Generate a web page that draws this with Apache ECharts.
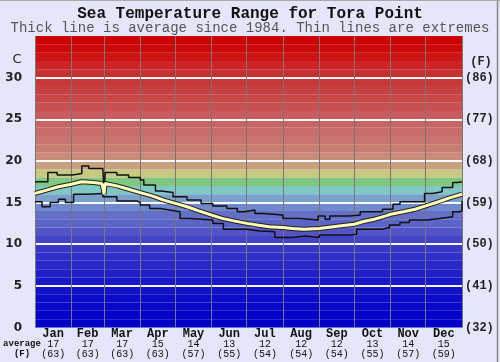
<!DOCTYPE html>
<html><head><meta charset="utf-8">
<script src="https://cdn.jsdelivr.net/npm/echarts@6/dist/echarts.min.js"></script>
<style>html,body{margin:0;padding:0;background:#e6e6fa}#c{width:500px;height:362px}</style>
</head><body><div id="c"></div>
<script>
const titleText = 'Sea Temperature Range for Tora Point';
const subtitleText = 'Thick line is average since 1984. Thin lines are extremes';
const monthNames = ['Jan','Feb','Mar','Apr','May','Jun','Jul','Aug','Sep','Oct','Nov','Dec'];
const monthStartDays = [0,31,59,90,120,151,181,212,243,273,304,334,365];
const monthMidDays = [15.5,45,74.5,105,135.5,166,196.5,227.5,258,288.5,319,349.5];
const monthAvgC = [17,17,17,15,14,13,12,12,12,13,14,15];
const monthAvgF = [63,63,63,63,57,55,54,54,54,55,57,59];
const celsiusTicks = [0,5,10,15,20,25,30];
const whiteLineTicks = [5,10,15,20,25,30];
const fahrenheitTickLabels = ['(32)','(41)','(50)','(59)','(68)','(77)','(86)'];

// day of year, degrees C
const avgLine = [[0,16.1],[10,16.5],[20,16.9],[31,17.2],[40,17.5],[50,17.4],[57,17.3],[58,16.9],[59,16.0],[60,17.3],
  [70,17.0],[80,16.6],[90,16.2],[100,15.8],[110,15.3],[120,14.9],[130,14.5],[140,14.0],[151,13.5],[160,13.1],
  [170,12.8],[181,12.5],[190,12.3],[200,12.1],[212,12.0],[220,11.9],[230,11.8],[243,11.9],[250,12.0],[260,12.2],
  [273,12.4],[280,12.7],[290,13.0],[300,13.4],[304,13.6],[315,13.9],[325,14.2],[334,14.6],[345,15.1],[355,15.6],[365,16.0]];
const maxLine = [[0,17.5],[11,18.6],[19,18.3],[32,18.5],[40,19.4],[46,19.1],[58,18.9],[59,16.2],[60,18.6],[70,18.3],
  [80,18.0],[90,17.7],[93,17.1],[103,16.4],[108,16.2],[118,15.7],[130,15.3],[142,14.9],[152,14.6],[164,14.3],
  [173,13.9],[179,14.1],[188,13.7],[195,13.5],[212,13.1],[226,12.9],[242,13.4],[248,13.0],[252,13.4],[269,13.5],
  [278,13.9],[297,14.2],[306,14.8],[312,15.1],[333,16.1],[340,16.3],[348,16.8],[357,17.4],[361,17.5],[365,17.5]];
const minLine = [[0,15.1],[6,14.5],[13,15.0],[20,15.4],[26,15.0],[33,16.0],[45,16.1],[58,15.7],[70,15.2],[87,15.0],
  [90,14.7],[98,14.3],[107,14.1],[115,13.9],[124,13.1],[132,12.9],[152,12.5],[161,11.8],[181,11.6],[192,11.5],
  [205,10.8],[220,11.0],[231,10.8],[243,11.1],[269,11.2],[275,11.8],[297,12.0],[303,12.3],[312,12.6],[320,12.9],
  [335,13.1],[346,13.3],[357,13.9],[363,14.0],[365,15.2]];

const bandColors = ['#0000c8','#0404c8','#0808c8','#0c0cc8','#1212c8','#1818c8','#2020c8','#2828c8','#3030c8','#3838c8',
  '#4444c8','#5454c8','#5c64c8','#6470c8','#7088cc','#7aa0cc','#80c8c8','#80c880','#c8c880','#c8a080',
  '#c88c78','#c87c70','#c87470','#c86c68','#c86464','#c85c5c','#c85050','#c84848','#c84040','#c83838',
  '#c83030','#cc2424','#cc1414','#cc0808','#cc0000'];
</script>
<script>
const chart = echarts.init(document.getElementById('c'), null, {renderer:'canvas'});
const mono = 'Liberation Mono, Courier New, monospace';
const bandData = bandColors.map((c,i)=>[{yAxis:i, itemStyle:{color:c}},{yAxis:i+1}]);
chart.setOption({
  animation:false,
  backgroundColor:'#e6e6fa',
  title:[
    {text:titleText,left:'center',top:6,padding:0,textStyle:{fontFamily:mono,fontWeight:'bold',fontSize:16,lineHeight:16,color:'#111'}},
    {text:subtitleText,left:'center',top:21,padding:0,textStyle:{fontFamily:mono,fontWeight:'normal',fontSize:14,lineHeight:14,color:'#555'}}
  ],
  grid:{left:35,right:38,top:36,bottom:34.5,containLabel:false},
  xAxis:{type:'value',min:0,max:365,
    axisLine:{show:false},
    axisTick:{show:false,customValues:monthStartDays},
    splitLine:{show:true,lineStyle:{color:'#777',width:1}},
    axisLabel:{customValues:monthMidDays,margin:1,
      formatter:v=>{const i=monthMidDays.indexOf(v);return '{m|'+monthNames[i]+'}\n{a|'+monthAvgC[i]+'}\n{f|('+monthAvgF[i]+')}';},
      rich:{m:{fontFamily:mono,fontWeight:'bold',fontSize:12,lineHeight:11,color:'#111'},
            a:{fontFamily:mono,fontSize:10,lineHeight:10,color:'#111'},
            f:{fontFamily:mono,fontSize:10,lineHeight:10,color:'#111'}}}
  },
  yAxis:[
    {type:'value',min:0,max:35,position:'left',
      axisLine:{show:false},axisTick:{show:false,customValues:whiteLineTicks},
      splitLine:{show:true,lineStyle:{color:'rgba(255,255,255,0.95)',width:2}},
      axisLabel:{customValues:celsiusTicks,margin:13,formatter:v=>String(v),
        fontFamily:'DejaVu Sans',fontWeight:'bold',fontSize:12,color:'#222'}},
    {type:'value',min:0,max:35,position:'right',
      axisLine:{show:false},axisTick:{show:false},splitLine:{show:false},
      axisLabel:{customValues:celsiusTicks,margin:3,formatter:v=>fahrenheitTickLabels[celsiusTicks.indexOf(v)],
        fontFamily:mono,fontWeight:'bold',fontSize:12,color:'#222'}}
  ],
  graphic:[
    {type:'text',x:17,y:60,style:{text:'C',font:'13px DejaVu Sans',fill:'#222',textAlign:'center',textVerticalAlign:'middle'}},
    {type:'text',x:481,y:62,style:{text:'(F)',font:'bold 12px '+mono,fill:'#222',textAlign:'center',textVerticalAlign:'middle'}},
    {type:'text',x:22,y:344,style:{text:'average',font:'bold 9px '+mono,fill:'#111',textAlign:'center',textVerticalAlign:'middle'}},
    {type:'text',x:22,y:354,style:{text:'(F)',font:'bold 9px '+mono,fill:'#111',textAlign:'center',textVerticalAlign:'middle'}},
    {type:'line',shape:{x1:497.5,y1:0,x2:497.5,y2:362},style:{stroke:'#888',lineWidth:1.5}},
    {type:'line',shape:{x1:0,y1:0.5,x2:500,y2:0.5},style:{stroke:'#aaa',lineWidth:1}}
  ],
  series:[
    {type:'line',name:'bands',data:[],silent:true,z:-1,
      markArea:{silent:true,z:-1,data:bandData,itemStyle:{borderWidth:0}}},
    {type:'line',name:'max',data:maxLine,step:'end',symbol:'none',silent:true,z:3,
      lineStyle:{color:'#111',width:1.5}},
    {type:'line',name:'min',data:minLine,step:'end',symbol:'none',silent:true,z:3,
      lineStyle:{color:'#111',width:1.5}},
    {type:'line',name:'avgOutline',data:avgLine,symbol:'none',silent:true,z:4,
      lineStyle:{color:'#222',width:5}},
    {type:'line',name:'avg',data:avgLine,symbol:'none',silent:true,z:5,
      lineStyle:{color:'#ffffb8',width:3}}
  ]
});
</script>
</body></html>
